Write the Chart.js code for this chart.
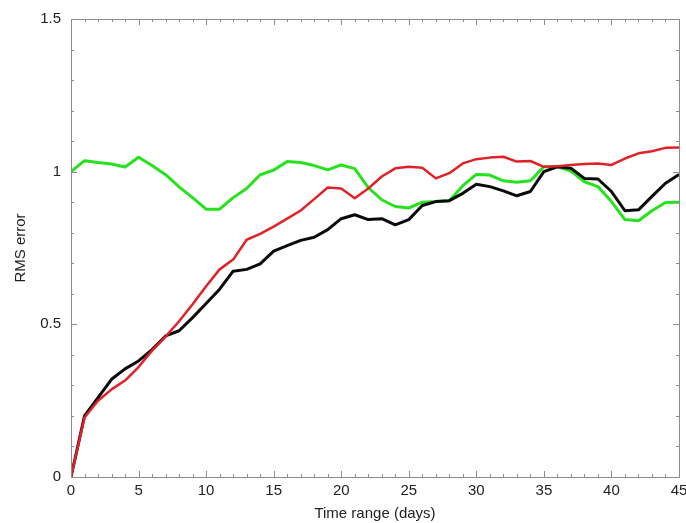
<!DOCTYPE html>
<html>
<head>
<meta charset="utf-8">
<script src="https://cdn.jsdelivr.net/npm/chart.js@4"></script>
<style>
  html, body { margin: 0; padding: 0; background: #fff; }
  #wrap { width: 686px; height: 523px; }
</style>
</head>
<body>
<div id="wrap"><canvas id="rms-chart"></canvas></div>
<script>
const DAYS = [0,1,2,3,4,5,6,7,8,9,10,11,12,13,14,15,16,17,18,19,20,21,22,23,24,25,26,27,28,29,30,31,32,33,34,35,36,37,38,39,40,41,42,43,44,45];

const RED = [0, 0.195, 0.25, 0.287, 0.316, 0.36, 0.414, 0.46, 0.51, 0.566, 0.625, 0.68, 0.712, 0.777, 0.796, 0.82, 0.846, 0.873, 0.91, 0.948, 0.945, 0.913, 0.945, 0.984, 1.011, 1.016, 1.013, 0.978, 0.995, 1.027, 1.041, 1.046, 1.049, 1.033, 1.035, 1.016, 1.018, 1.022, 1.025, 1.027, 1.022, 1.043, 1.06, 1.067, 1.078, 1.079];

const BLACK = [0, 0.2, 0.26, 0.32, 0.354, 0.38, 0.417, 0.462, 0.479, 0.522, 0.568, 0.615, 0.674, 0.68, 0.698, 0.74, 0.758, 0.775, 0.785, 0.81, 0.846, 0.859, 0.843, 0.846, 0.826, 0.843, 0.889, 0.902, 0.905, 0.929, 0.959, 0.951, 0.937, 0.921, 0.935, 1.0, 1.016, 1.011, 0.978, 0.976, 0.935, 0.872, 0.875, 0.919, 0.962, 0.991];

const GREEN = [1.0, 1.036, 1.03, 1.025, 1.015, 1.047, 1.02, 0.99, 0.95, 0.915, 0.877, 0.877, 0.915, 0.945, 0.99, 1.005, 1.033, 1.03, 1.02, 1.006, 1.022, 1.01, 0.948, 0.908, 0.886, 0.881, 0.9, 0.902, 0.905, 0.954, 0.991, 0.989, 0.97, 0.965, 0.97, 1.016, 1.016, 1.002, 0.967, 0.951, 0.902, 0.843, 0.839, 0.872, 0.899, 0.9];

const X_TICKS = [0, 5, 10, 15, 20, 25, 30, 35, 40, 45];
const Y_TICKS = [0, 0.5, 1, 1.5];

const FONT = "'Liberation Sans', Arial, sans-serif";
const AXIS_GREY = "#8c8c8c";

function pts(ys) {
  return DAYS.map((d, i) => ({ x: d, y: ys[i] }));
}

// frame with inward major/minor ticks on all four sides
const framePlugin = {
  id: "frame",
  afterDraw(chart) {
    const { ctx, chartArea: a, scales } = chart;
    const xs = scales.x, ys = scales.y;
    ctx.save();
    ctx.strokeStyle = AXIS_GREY;
    ctx.lineWidth = 1;
    ctx.strokeRect(a.left + 0.5, a.top + 0.5, a.right - a.left, a.bottom - a.top);
    ctx.beginPath();
    for (let d = 0; d <= 45; d++) {
      const px = Math.round(xs.getPixelForValue(d)) + 0.5;
      const len = d % 5 === 0 ? 6 : 3;
      ctx.moveTo(px, a.bottom); ctx.lineTo(px, a.bottom - len);
      ctx.moveTo(px, a.top); ctx.lineTo(px, a.top + len);
    }
    for (let k = 0; k <= 15; k++) {
      const py = Math.round(ys.getPixelForValue(k / 10)) + 0.5;
      const len = k % 5 === 0 ? 6 : 3;
      ctx.moveTo(a.left, py); ctx.lineTo(a.left + len, py);
      ctx.moveTo(a.right, py); ctx.lineTo(a.right - len, py);
    }
    ctx.stroke();
    ctx.restore();
  }
};

const RCHART = document.getElementById("rms-chart");

let rmsChart = new Chart(RCHART, {
  type: "line",
  data: {
    datasets: [
      { label: "red", data: pts(RED), borderColor: "rgb(222, 34, 40)", borderWidth: 2.5 },
      { label: "black", data: pts(BLACK), borderColor: "rgb(10, 10, 10)", borderWidth: 3 },
      { label: "green", data: pts(GREEN), borderColor: "rgb(40, 225, 30)", borderWidth: 3 },
    ],
  },
  options: {
    responsive: true,
    maintainAspectRatio: false,
    animation: false,
    layout: { padding: { top: 16, right: 0, left: 0, bottom: 0 } },
    elements: {
      point: { radius: 0 },
      line: { tension: 0, fill: false, borderJoinStyle: "round" },
    },
    plugins: {
      legend: { display: false },
      tooltip: { enabled: false },
    },
    scales: {
      x: {
        type: "linear",
        min: 0,
        max: 45,
        afterBuildTicks: (s) => { s.ticks = X_TICKS.map((v) => ({ value: v })); },
        afterFit: (s) => { s.height = 46; s.paddingRight = 7; },
        grid: { display: false, drawTicks: false },
        border: { display: false },
        ticks: { color: "#222", padding: 5, font: { family: FONT, size: 15 }, maxRotation: 0 },
        title: { display: true, text: "Time range (days)", color: "#222", padding: { top: 2, bottom: 0 }, font: { family: FONT, size: 15 } },
      },
      y: {
        min: 0,
        max: 1.5,
        afterBuildTicks: (s) => { s.ticks = Y_TICKS.map((v) => ({ value: v })); },
        afterFit: (s) => { s.width = 71; },
        grid: { display: false, drawTicks: false },
        border: { display: false },
        ticks: { color: "#222", padding: 10, font: { family: FONT, size: 15 }, callback: (v) => String(v) },
        title: { display: true, text: "RMS error", color: "#222", padding: { top: 12, bottom: 0 }, font: { family: FONT, size: 15 } },
      },
    },
  },
  plugins: [framePlugin],
});
</script>
</body>
</html>
